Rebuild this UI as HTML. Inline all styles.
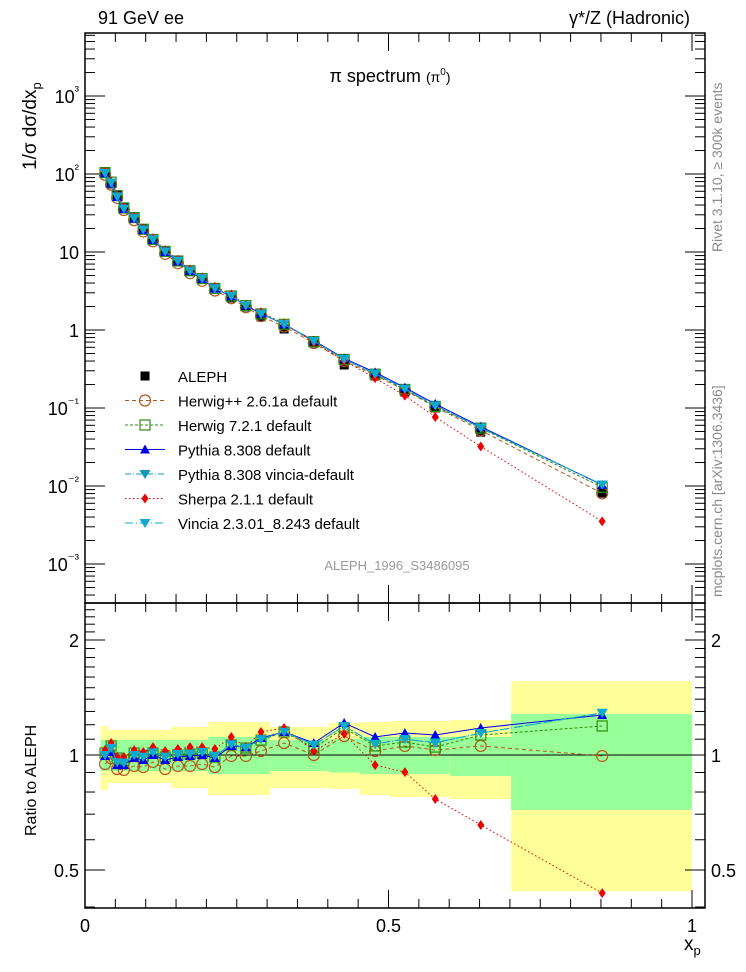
<!DOCTYPE html>
<html><head><meta charset="utf-8"><style>
body{margin:0;background:#fff}
svg{display:block;font-family:"Liberation Sans",sans-serif}
</style></head><body>
<svg id="c" width="746" height="972" viewBox="0 0 746 972" xmlns="http://www.w3.org/2000/svg">
<g id="bands"></g>
<g id="axes"></g>
<g id="data"></g>
<g id="series"></g>
<g id="legend"></g>
<text x="98" y="24" font-size="18">91 GeV ee</text>
<text x="690" y="24" font-size="18" text-anchor="end">γ*/Z (Hadronic)</text>
<text x="390" y="82" font-size="18" text-anchor="middle">π spectrum <tspan font-size="14">(π</tspan><tspan font-size="10" dy="-7">0</tspan><tspan font-size="14" dy="7">)</tspan></text>
<text x="397" y="570" font-size="13" fill="#999" text-anchor="middle">ALEPH_1996_S3486095</text>
<text transform="translate(36,170) rotate(-90)" font-size="19">1/σ dσ/dx<tspan font-size="13" dy="5">p</tspan></text>
<text transform="translate(36,836) rotate(-90)" font-size="16">Ratio to ALEPH</text>
<text x="684" y="950" font-size="19">x<tspan font-size="13" dy="5">p</tspan></text>
<text transform="translate(722,252) rotate(-90)" font-size="14" fill="#888">Rivet 3.1.10, ≥ 300k events</text>
<text transform="translate(722,597) rotate(-90)" font-size="14" fill="#888">mcplots.cern.ch [arXiv:1306.3436]</text>
</svg>
<script>
const xs=[0.033,0.043,0.053,0.064,0.081,0.096,0.112,0.132,0.153,0.173,0.193,0.214,0.241,0.265,0.290,0.328,0.377,0.427,0.478,0.527,0.577,0.652,0.852];
const aleph=[103,74.5,53.8,37.8,27.3,19.7,14.3,10.3,7.67,5.71,4.51,3.45,2.57,1.97,1.47,1.03,0.68,0.356,0.257,0.16,0.1,0.049,0.0081];
const rHerwigpp=[0.947,0.98,0.919,0.914,0.936,0.93,0.959,0.919,0.936,0.936,0.947,0.93,0.994,0.994,1.024,1.075,1.0,1.121,1.024,1.056,1.03,1.056,0.994];
const rHerwig7=[1.012,1.056,0.982,0.97,1.012,0.994,1.012,0.988,1.0,1.006,1.012,0.988,1.062,1.043,1.094,1.149,1.043,1.177,1.056,1.081,1.049,1.128,1.191];
const rPythia=[0.994,1.018,0.941,0.941,0.982,0.97,1.0,0.97,0.988,0.994,1.0,0.982,1.056,1.049,1.108,1.149,1.075,1.213,1.115,1.142,1.128,1.177,1.273];
const rPyVincia=[1.0,1.043,0.959,0.953,1.0,0.988,1.018,0.988,1.006,1.006,1.018,0.994,1.068,1.043,1.101,1.149,1.062,1.191,1.068,1.101,1.075,1.142,1.288];
const rSherpa=[1.03,1.075,0.988,0.988,1.03,1.018,1.049,1.024,1.037,1.049,1.049,1.037,1.115,1.049,1.149,1.177,1.024,1.135,0.941,0.902,0.767,0.656,0.435];
const rVincia=[1.0,1.045,0.957,0.955,1.0,0.99,1.016,0.99,1.006,1.008,1.018,0.995,1.066,1.045,1.1,1.15,1.064,1.19,1.07,1.1,1.078,1.14,1.29];
const bandEdges=[0.026,0.038,0.142,0.203,0.305,0.402,0.453,0.502,0.601,0.702,1.0];
const yelHi=[1.191,1.163,1.184,1.22,1.184,1.213,1.22,1.227,1.235,1.56];
const yelLo=[0.81,0.845,0.82,0.786,0.82,0.815,0.786,0.776,0.767,0.44];
const grnHi=[1.094,1.094,1.094,1.115,1.094,1.1,1.115,1.115,1.115,1.28];
const grnLo=[0.908,0.908,0.908,0.892,0.908,0.9,0.892,0.892,0.881,0.718];
const decadeLabels=["10⁻³","10⁻²","10⁻¹","1","10","10²","10³"];
const ratioLabels=["0.5","1","2"];

const NS="http://www.w3.org/2000/svg";
const X=v=>85+607*v;
const Y=v=>330-78*Math.log10(v);
const R=v=>755-115*Math.log2(v);
function el(t,a,p){const e=document.createElementNS(NS,t);for(const k in a)e.setAttribute(k,a[k]);p.appendChild(e);return e;}
const gB=document.getElementById('bands'),gA=document.getElementById('axes'),gS=document.getElementById('series'),gL=document.getElementById('legend'),gD=document.getElementById('data');

for(let i=0;i<yelHi.length;i++){
 const x0=X(bandEdges[i]),x1=X(bandEdges[i+1]);
 const y=el('rect',{x:x0,y:R(yelHi[i]),width:x1-x0,height:R(yelLo[i])-R(yelHi[i]),fill:'#ffff99'},gB);
 
 
 const g=el('rect',{x:x0,y:R(grnHi[i]),width:x1-x0,height:R(grnLo[i])-R(grnHi[i]),fill:'#99ff99'},gB);
 
 
}
el('line',{x1:85,x2:705,y1:R(1),y2:R(1),stroke:'#000','stroke-width':1},gB);

el('rect',{x:85,y:33,width:620,height:570,fill:'none',stroke:'#000','stroke-width':1.5},gA);
el('rect',{x:85,y:603,width:620,height:305,fill:'none',stroke:'#000','stroke-width':1.5},gA);
for(let d=-4;d<=3;d++){for(let m=1;m<=9;m++){const v=m*Math.pow(10,d);const y=Y(v);if(y<33||y>603)continue;const L=m==1?20:10;
 el('line',{x1:85,x2:85+L,y1:y,y2:y,stroke:'#000'},gA);el('line',{x1:705,x2:705-L,y1:y,y2:y,stroke:'#000'},gA);}}
decadeLabels.forEach((s,i)=>{const d=i-3;const y=Y(Math.pow(10,d));
 const t=el('text',{x:79,y:y+7,'font-size':18,'text-anchor':'end'},gA);
 if(d==0)t.textContent='1';else if(d==1)t.textContent='10';else{t.textContent='10';const sp=el('tspan',{dy:-8,'font-size':13},t);sp.textContent=s.slice(2);}
 
 });
for(let k=4;k<=25;k++){const v=k/10;const y=R(v);if(y<603||y>908)continue;const L=(k==5||k==10||k==20)?20:10;
 el('line',{x1:85,x2:85+L,y1:y,y2:y,stroke:'#000'},gA);el('line',{x1:705,x2:705-L,y1:y,y2:y,stroke:'#000'},gA);}
ratioLabels.forEach(s=>{const y=R(parseFloat(s));
 const t=el('text',{x:79,y:y+7,'font-size':18,'text-anchor':'end'},gA);t.textContent=s;
 
 
 const t2=el('text',{x:711,y:y+7,'font-size':18},gA);t2.textContent=s;
 
 });
for(let k=0;k<=20;k++){const x=X(k*0.05);const L=k%10==0?18:9;
 el('line',{x1:x,x2:x,y1:908,y2:908-L,stroke:'#000'},gA);el('line',{x1:x,x2:x,y1:603,y2:603-L,stroke:'#000'},gA);
 el('line',{x1:x,x2:x,y1:603,y2:603+L,stroke:'#000'},gA);el('line',{x1:x,x2:x,y1:33,y2:33+L,stroke:'#000'},gA);}
[["0",0],["0.5",0.5],["1",1]].forEach(([s,v])=>{const t=el('text',{x:X(v),y:932,'font-size':18,'text-anchor':'middle'},gA);t.textContent=s;
 
 });

function marker(type,x,y,c,p){
 const s=5;
 if(type=='sq')return el('rect',{x:x-4.5,y:y-4.5,width:9,height:9,fill:c},p);
 if(type=='osq')return el('rect',{x:x-s,y:y-s,width:2*s,height:2*s,fill:'none',stroke:c,'stroke-width':1.2},p);
 if(type=='oc')return el('circle',{cx:x,cy:y,r:s+0.5,fill:'none',stroke:c,'stroke-width':1.2},p);
 if(type=='tu')return el('polygon',{points:`${x},${y-s} ${x+s},${y+s*0.8} ${x-s},${y+s*0.8}`,fill:c},p);
 if(type=='td')return el('polygon',{points:`${x},${y+s} ${x+s+0.5},${y-s*0.8} ${x-s-0.5},${y-s*0.8}`,fill:c},p);
 if(type=='di')return el('polygon',{points:`${x},${y-s} ${x+3.5},${y} ${x},${y+s} ${x-3.5},${y}`,fill:c},p);
}
xs.forEach((x,i)=>{const a=marker('sq',X(x),Y(aleph[i]),'#000',gD);
 
 });
const series=[
 {n:'Herwig++ 2.6.1a default',r:rHerwigpp,c:'#b5561b',m:'oc',d:'4,3',id:'herwigpp'},
 {n:'Herwig 7.2.1 default',r:rHerwig7,c:'#2e8b10',m:'osq',d:'3,2',id:'herwig7'},
 {n:'Pythia 8.308 default',r:rPythia,c:'#0000ee',m:'tu',d:'',id:'pythia'},
 {n:'Pythia 8.308 vincia-default',r:rPyVincia,c:'#1199bb',m:'td',d:'6,2,1,2',id:'pythia-vincia'},
 {n:'Sherpa 2.1.1 default',r:rSherpa,c:'#ee0000',m:'di',d:'1.5,2.5',id:'sherpa'},
 {n:'Vincia 2.3.01_8.243 default',r:rVincia,c:'#11aacc',m:'td',d:'8,3,1,3',id:'vincia'}];
series.forEach(s=>{
 const g=el('g',{},gS);
 
 
 const mp=xs.map((x,i)=>X(x)+','+Y(aleph[i]*s.r[i])).join(' ');
 const rp=xs.map((x,i)=>X(x)+','+R(s.r[i])).join(' ');
 el('polyline',{points:mp,fill:'none',stroke:s.c,'stroke-width':1,'stroke-dasharray':s.d},g);
 el('polyline',{points:rp,fill:'none',stroke:s.c,'stroke-width':1,'stroke-dasharray':s.d},g);
 xs.forEach((x,i)=>{
  const a=marker(s.m,X(x),Y(aleph[i]*s.r[i]),s.c,g);
  
  
  const b=marker(s.m,X(x),R(s.r[i]),s.c,g);
  
  
 });
});
const lg=[{n:'ALEPH',c:'#000',m:'sq',d:null}].concat(series);
lg.forEach((s,i)=>{const y=376+i*24.5;
 const g=el('g',{},gL);
 
 
 if(s.d!==null)el('line',{x1:125,x2:165,y1:y,y2:y,stroke:s.c,'stroke-dasharray':s.d},g);
 marker(s.m,145,y,s.c,g);
 const t=el('text',{x:178,y:y+6,'font-size':15},g);t.textContent=s.n;});
</script>
</body></html>
